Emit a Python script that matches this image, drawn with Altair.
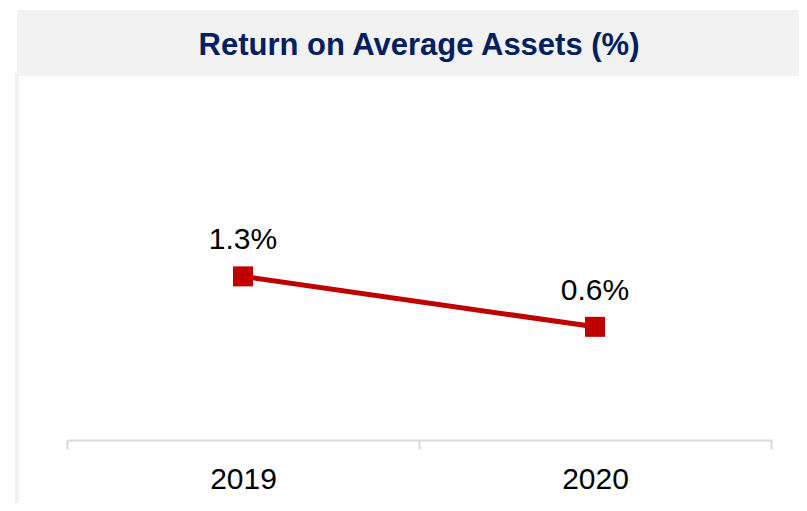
import altair as alt
import pandas as pd

years = ["2019", "2020"]
roaa = [1.3, 0.6]
labels = ["1.3%", "0.6%"]
title_text = "Return on Average Assets (%)"

df = pd.DataFrame({"year": years, "roaa": roaa, "label": labels})
one = pd.DataFrame({"t": [title_text]})

RED = "#C00000"
NAVY = "#002060"
FONT = "Liberation Sans"
W, H = 704, 364

x_enc = alt.X("year:N", sort=years,
              scale=alt.Scale(type="band", paddingInner=0, paddingOuter=0),
              axis=alt.Axis(title=None, labelAngle=0, labelFontSize=30, labelFont=FONT,
                            labelColor="#000000", labelPadding=15,
                            domainColor="#D9D9D9", domainWidth=2,
                            tickColor="#D9D9D9", tickWidth=2, tickSize=9,
                            tickBand="extent", grid=False))
y_enc = alt.Y("roaa:Q", scale=alt.Scale(domain=[-0.97, 4.08], nice=False, zero=False),
              axis=None)

band = alt.Chart(one).mark_rect(color="#F2F2F2").encode(
    x=alt.value(-50), x2=alt.value(740), y=alt.value(-66), y2=alt.value(0))
strip = alt.Chart(one).mark_rule(color="#F2F2F2", strokeWidth=4).encode(
    x=alt.value(-50), y=alt.value(-3), y2=alt.value(440))
title = alt.Chart(one).mark_text(font=FONT, fontSize=31, fontWeight="bold", color=NAVY,
                                  baseline="alphabetic", align="center").encode(
    x=alt.value(W / 2), y=alt.value(-21), text="t:N")

line = alt.Chart(df).mark_line(color=RED, strokeWidth=5).encode(x=x_enc, y=y_enc)
pts = alt.Chart(df).mark_square(color=RED, size=400, opacity=1).encode(x=x_enc, y=y_enc)
txt = alt.Chart(df).mark_text(font=FONT, fontSize=30, color="#000000",
                              baseline="alphabetic", dy=-27).encode(
    x=x_enc, y=y_enc, text="label:N")

chart = alt.layer(band, strip, title, line, pts, txt).properties(
    width=W, height=H,
    autosize=alt.AutoSizeParams(type="none"),
    padding={"left": 59, "top": 68, "right": 28, "bottom": 63},
).configure_view(stroke=None)

chart.save("out.html", embed_options={"renderer": "svg", "actions": False})
